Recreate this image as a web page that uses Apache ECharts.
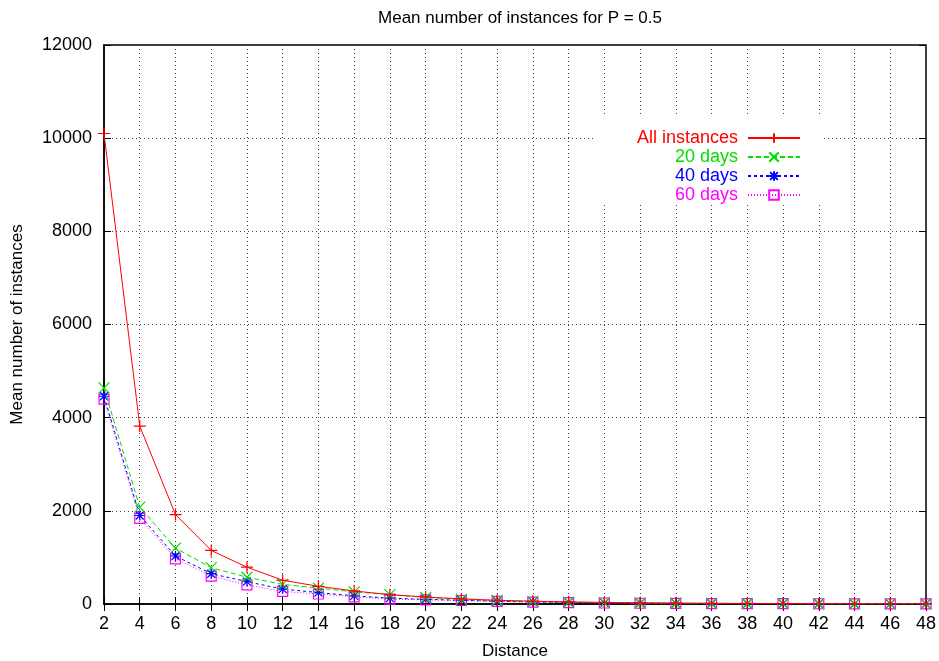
<!DOCTYPE html>
<html>
<head>
<meta charset="utf-8">
<script src="https://cdn.jsdelivr.net/npm/echarts@6/dist/echarts.min.js"></script>
<style>
  html, body { margin: 0; padding: 0; background: #fff; }
  #main { width: 939px; height: 661px; }
</style>
</head>
<body>
<div id="main"></div>
<script>
// distance values (x)
var distances = [2, 4, 6, 8, 10, 12, 14, 16, 18, 20, 22, 24, 26, 28, 30, 32, 34, 36, 38, 40, 42, 44, 46, 48];

// mean number of instances
var allInstances = [10100, 3820, 1920, 1150, 790, 510, 380, 280, 200, 150, 110, 80, 60, 45, 35, 25, 20, 15, 12, 10, 8, 6, 5, 4];
var days20 = [4640, 2080, 1200, 780, 575, 420, 340, 260, 200, 140, 100, 75, 55, 40, 30, 22, 17, 13, 10, 8, 6, 5, 4, 3];
var days40 = [4460, 1900, 1030, 650, 480, 320, 245, 175, 125, 100, 80, 60, 45, 35, 25, 18, 14, 11, 9, 7, 5, 4, 3, 2];
var days60 = [4400, 1840, 970, 600, 410, 270, 215, 155, 105, 90, 75, 55, 40, 30, 22, 16, 12, 10, 8, 6, 5, 4, 3, 2];

var seriesNames = ['All instances', '20 days', '40 days', '60 days'];
var seriesColors = ['#ff0000', '#00dd00', '#0000ff', '#ff00ff'];

var FONT = '"Liberation Sans", Arial, sans-serif';

function pairs(vals) {
    var out = [];
    for (var i = 0; i < distances.length; i++) {
        out.push([distances[i], vals[i]]);
    }
    return out;
}

// gnuplot-like point types
var symPlus = 'path://M0,5L10,5M5,0L5,10';
var symCross = 'path://M0,0L10,10M10,0L0,10';
var symStar = 'path://M0,5L10,5M5,0L5,10M1,1L9,9M9,1L1,9';
var symBox = 'path://M0,0L10,0L10,10L0,10Z';

function makeSeries(idx, vals, symbol, size, lineType) {
    var c = seriesColors[idx];
    return {
        name: seriesNames[idx],
        type: 'line',
        data: pairs(vals),
        symbol: symbol,
        symbolSize: size,
        showAllSymbol: true,
        lineStyle: { color: c, width: 1, type: lineType },
        itemStyle: { color: 'rgba(0,0,0,0)', borderColor: c, borderWidth: 1.2 },
        emphasis: { disabled: true },
        z: 10 - idx
    };
}

var myChart = echarts.init(document.getElementById('main'));

var option = {
    backgroundColor: '#fff',
    animation: false,
    title: {
        text: 'Mean number of instances for P = 0.5',
        left: 515,
        textAlign: 'center',
        top: 5,
        textStyle: { fontFamily: FONT, fontSize: 17, fontWeight: 'normal', color: '#000' }
    },
    grid: {
        left: 104,
        right: 13,
        top: 45,
        bottom: 57,
        containLabel: false,
        outerBoundsMode: 'none',
        show: true,
        borderColor: '#000',
        borderWidth: 1.5,
        backgroundColor: 'transparent'
    },
    legend: {
        right: 117,
        top: 115,
        orient: 'vertical',
        align: 'right',
        itemWidth: 52,
        itemHeight: 12,
        itemGap: 1,
        backgroundColor: '#fff',
        padding: [14, 21, 0, 42],
        formatter: function (n) { return n + ' '; },
        textStyle: { fontFamily: FONT, fontSize: 18 },
        data: seriesNames.map(function (n, i) {
            return { name: n, textStyle: { color: seriesColors[i] } };
        })
    },
    xAxis: [
        {
            type: 'value',
            min: 2,
            max: 48,
            interval: 2,
            name: 'Distance',
            nameLocation: 'middle',
            nameGap: 39,
            nameTextStyle: { fontFamily: FONT, fontSize: 17, color: '#000' },
            axisLine: { show: true, lineStyle: { color: '#000', width: 1.5 } },
            axisTick: { show: true, inside: true, length: 7, lineStyle: { color: '#000' } },
            axisLabel: { fontFamily: FONT, fontSize: 18, color: '#000', margin: 11 },
            splitLine: { show: true, lineStyle: { color: '#444', width: 1, type: [1, 3] } }
        },
        {
            type: 'value',
            position: 'top',
            min: 2,
            max: 48,
            interval: 2,
            axisLine: { show: false },
            axisTick: { show: true, inside: true, length: 7, lineStyle: { color: '#000' } },
            axisLabel: { show: false },
            splitLine: { show: false }
        }
    ],
    yAxis: [
        {
            type: 'value',
            min: 0,
            max: 12000,
            interval: 2000,
            name: 'Mean number of instances',
            nameLocation: 'middle',
            nameGap: 78,
            nameTextStyle: { fontFamily: FONT, fontSize: 17, color: '#000' },
            axisLine: { show: true, lineStyle: { color: '#000', width: 1.5 } },
            axisTick: { show: true, inside: true, length: 7, lineStyle: { color: '#000' } },
            axisLabel: {
                fontFamily: FONT, fontSize: 18, color: '#000', margin: 12,
                formatter: function (v) { return String(v); }
            },
            splitLine: { show: true, lineStyle: { color: '#444', width: 1, type: [1, 3] } }
        },
        {
            type: 'value',
            position: 'right',
            min: 0,
            max: 12000,
            interval: 2000,
            axisLine: { show: false },
            axisTick: { show: true, inside: true, length: 7, lineStyle: { color: '#000' } },
            axisLabel: { show: false },
            splitLine: { show: false }
        }
    ],
    series: [
        makeSeries(0, allInstances, symPlus, 12, 'solid'),
        makeSeries(1, days20, symCross, 11, [5, 3]),
        makeSeries(2, days40, symStar, 10, [3, 3]),
        makeSeries(3, days60, symBox, 10, [1, 2])
    ]
};

myChart.setOption(option);
</script>
</body>
</html>
